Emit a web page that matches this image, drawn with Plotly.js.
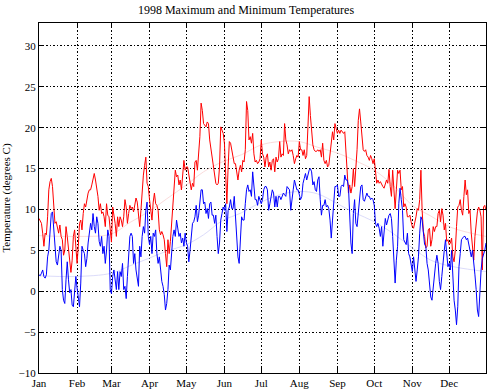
<!DOCTYPE html>
<html><head><meta charset="utf-8">
<script src="https://cdn.plot.ly/plotly-3.0.1.min.js"></script>
<style>html,body{margin:0;padding:0;background:#fff}#chart{width:492px;height:392px}</style>
</head><body><div id="chart"></div>
<script>
const monthDays = [1,32,60,91,121,152,182,213,244,274,305,335];
const monthLabels = ['Jan','Feb','Mar','Apr','May','Jun','Jul','Aug','Sep','Oct','Nov','Dec'];

const maxTemp = [
8.9,8.5,8.3,7.1,5.5,7.1,6.9,9.1,12.4,13.4,
13.8,12.8,9.9,8.3,8.5,7.9,7.1,8.1,6.7,6.3,
4.4,5.0,7.9,6.7,5.0,3.0,2.3,3.8,6.7,7.5,
5.9,3.4,5.5,8.3,8.7,7.5,9.5,10.7,10.3,11.2,
12.0,12.4,12.4,13.0,14.0,14.4,13.6,12.8,11.6,9.9,
10.7,9.5,9.7,9.1,7.9,10.7,9.3,9.1,7.1,6.0,
10.3,9.5,8.3,6.7,9.1,7.9,9.1,8.7,7.9,9.1,
11.2,10.3,8.3,9.5,10.5,10.1,10.3,9.7,10.5,11.4,
10.9,9.1,7.9,9.9,12.4,14.2,15.4,16.4,13.2,12.8,
11.2,9.5,8.7,10.9,12.0,10.7,10.5,9.9,7.5,6.9,
7.3,6.9,6.3,4.6,3.0,6.3,4.6,6.1,8.3,9.5,
12.8,14.8,14.0,14.2,13.0,13.6,12.4,14.8,16.0,14.8,
15.2,15.2,14.4,13.6,12.4,13.2,12.8,15.8,16.0,14.8,
16.4,18.9,23.0,22.1,20.5,20.3,20.1,20.7,20.5,18.5,
17.3,16.4,15.2,13.8,13.2,13.0,13.2,15.2,20.1,19.7,
19.3,18.1,14.4,10.7,15.2,18.3,18.1,17.3,16.4,15.6,
15.6,14.8,13.6,14.8,15.4,14.6,16.0,15.8,17.3,23.2,
22.1,18.5,18.9,18.1,19.3,16.8,15.8,16.0,15.6,15.8,
16.2,18.5,16.8,16.4,15.2,16.4,16.8,15.2,15.8,14.8,
16.0,16.2,14.6,16.4,15.8,16.2,18.3,16.4,16.8,16.6,
20.5,18.5,17.9,16.8,17.3,17.1,17.3,16.6,15.6,16.2,
16.6,16.4,18.3,17.3,17.3,16.6,17.3,16.2,16.6,20.1,
23.8,21.5,19.7,17.9,17.3,17.1,17.1,17.3,17.1,17.3,
16.4,18.1,16.0,15.6,16.0,15.2,15.4,16.6,17.7,19.5,
18.5,20.5,19.9,19.3,19.7,19.3,19.7,19.5,19.3,19.5,
17.3,14.0,12.0,13.0,12.0,12.8,15.0,12.8,14.8,17.3,
20.9,22.3,20.7,18.9,17.3,17.1,17.3,16.6,16.4,16.0,
16.6,16.2,15.6,16.2,14.8,13.2,13.6,13.2,13.4,13.0,
12.8,12.6,13.2,13.6,13.2,14.9,12.8,11.6,14.8,12.0,
10.1,12.4,14.8,14.4,14.8,12.4,12.8,10.3,10.7,10.3,
9.1,9.1,9.3,8.5,7.9,7.7,8.3,9.1,10.1,9.9,
11.2,14.8,9.9,7.3,6.7,5.3,5.5,7.5,7.7,5.5,
6.3,7.9,7.3,7.9,7.9,9.5,9.9,8.5,10.1,9.3,
7.5,8.3,6.1,6.3,5.7,5.9,6.5,4.2,3.6,5.0,
7.9,10.3,10.5,11.2,9.9,9.3,11.6,13.6,11.8,12.4,
9.5,9.9,7.1,5.3,3.8,6.7,8.3,9.7,10.3,9.9,
9.1,2.6,10.3,10.5,9.9
];

const minTemp = [
2.0,1.9,2.2,2.6,1.8,1.6,2.0,4.2,5.0,7.5,
9.5,9.7,7.5,5.5,3.6,3.2,4.2,5.5,5.0,0.2,
-1.1,-1.5,1.4,3.6,1.4,-0.2,0.2,-1.7,-1.9,-0.2,
1.8,0.4,-1.1,-1.9,1.0,5.5,5.0,4.6,3.0,4.0,
5.9,7.5,8.3,7.5,9.5,7.9,7.1,9.1,8.3,6.1,
5.5,6.7,4.6,5.5,3.4,5.0,7.5,6.7,0.2,-0.3,
1.8,2.6,1.2,0.2,2.4,0.2,2.4,1.8,3.4,0.2,
0.6,-0.9,1.8,4.6,6.7,7.1,6.7,3.4,4.6,2.6,
1.8,0.6,5.5,4.2,6.7,7.9,7.1,9.9,10.9,6.7,
5.7,6.7,4.6,7.1,6.7,7.5,4.6,3.4,4.2,2.2,
1.2,0.6,-0.4,-2.3,-1.5,0.2,3.2,2.6,5.0,6.7,
7.5,6.7,8.7,7.5,6.7,7.1,5.9,6.5,5.5,7.1,
5.9,5.5,3.6,5.0,6.7,8.3,8.5,9.1,10.5,8.5,
9.3,10.7,12.4,12.4,10.7,10.9,9.5,10.1,8.9,10.7,
10.9,9.3,9.3,8.3,9.3,6.7,4.6,5.9,8.7,9.5,
10.3,9.9,10.7,7.3,9.9,10.3,11.2,10.1,10.1,11.6,
8.7,7.1,4.2,3.4,7.1,9.1,8.7,8.7,10.7,12.4,
13.0,12.2,12.4,11.6,14.6,12.8,11.2,11.2,10.5,11.6,
11.2,10.7,11.2,12.4,12.8,12.8,12.4,9.9,10.7,11.6,
12.4,12.0,10.3,11.6,10.3,11.6,11.6,11.2,11.6,12.0,
11.8,11.6,12.8,12.6,12.4,9.9,11.6,12.4,13.6,12.8,
12.4,12.4,11.6,11.2,11.6,13.2,13.8,14.4,13.6,14.4,
14.8,15.0,14.6,13.0,13.4,12.4,12.2,13.6,14.0,11.2,
9.3,10.5,10.5,11.2,10.3,10.5,10.1,8.7,6.5,8.7,
11.2,12.8,12.8,13.0,11.6,11.6,12.8,13.0,12.8,14.2,
13.6,13.6,12.8,8.7,5.9,4.6,9.5,11.2,8.3,7.9,
9.9,10.7,12.8,13.0,11.2,11.0,11.6,12.0,11.6,11.6,
11.2,11.4,11.2,10.5,8.3,7.9,8.3,7.7,6.7,7.9,
5.5,7.5,8.9,8.1,8.7,9.3,9.5,8.9,6.7,4.2,
1.0,3.8,5.5,10.7,12.6,11.2,9.9,6.3,5.9,5.7,
7.1,4.6,4.2,3.0,2.4,4.2,2.4,1.2,2.6,4.2,
7.1,9.1,8.7,7.1,5.7,5.5,3.4,2.6,1.0,-0.7,
-1.1,0.6,1.8,3.4,4.4,3.4,1.2,0.2,1.8,3.8,
5.0,6.3,4.2,3.0,3.4,2.6,5.0,1.8,-1.1,-2.3,
-4.1,-1.9,3.0,4.6,6.3,6.5,6.7,6.7,6.3,6.5,
5.7,5.0,4.2,5.0,3.8,2.0,0.2,-2.3,-3.1,0.2,
2.6,4.0,4.4,5.0,5.9
];

const trendDays = [1,30,60,75,90,105,121,135,150,166,182,197,213,228,244,258,274,289,305,320,335,350,365];
const maxTrend = [6.8,6.7,7.0,8.4,9.7,11.3,13.0,14.6,15.8,16.7,17.9,18.3,18.3,17.6,16.9,16.0,14.8,13.0,10.5,9.2,7.9,7.2,6.7];
const minTrend = [1.9,1.8,2.2,3.1,4.0,4.9,5.7,6.9,8.6,9.6,10.9,11.8,12.2,11.9,10.7,9.6,8.5,7.1,5.3,3.8,3.1,2.7,2.4];

const serif = 'Liberation Serif, Times New Roman, serif';
const traces = [
  {x: trendDays, y: maxTrend, type:'scatter', mode:'lines', line:{color:'#fadcdc', width:1, shape:'spline'}, hoverinfo:'skip'},
  {x: trendDays, y: minTrend, type:'scatter', mode:'lines', line:{color:'#dcdcfa', width:1, shape:'spline'}, hoverinfo:'skip'},
  {x0:1, dx:1, y: maxTemp, type:'scatter', mode:'lines', line:{color:'#ff0000', width:1}},
  {x0:1, dx:1, y: minTemp, type:'scatter', mode:'lines', line:{color:'#0000ff', width:1}}
];
const axisCommon = {
  showline:true, linecolor:'#000', linewidth:1, mirror:'ticks',
  ticks:'inside', ticklen:5, tickcolor:'#000', tickwidth:1,
  showgrid:true, gridcolor:'#000', gridwidth:1, griddash:'2px,2px,1px,2px',
  zeroline:false, tickfont:{family:serif, size:11, color:'#000'}
};
const layout = {
  width:492, height:392,
  margin:{l:39, r:6, t:23, b:19},
  paper_bgcolor:'#fff', plot_bgcolor:'#fff',
  showlegend:false,
  title:{text:'1998 Maximum and Minimum Temperatures', font:{family:serif, size:12, color:'#000'}, x:0.5, xanchor:'center', y:0.975, yanchor:'middle'},
  xaxis: Object.assign({}, axisCommon, {range:[1,365], tickmode:'array', tickvals:monthDays, ticktext:monthLabels}),
  yaxis: Object.assign({}, axisCommon, {range:[-10,32.8], tickmode:'array', tickvals:[-10,-5,0,5,10,15,20,25,30],
    title:{text:'Temperature (degrees C)', font:{family:serif, size:11, color:'#000'}, standoff:6}})
};
Plotly.newPlot('chart', traces, layout, {staticPlot:true, displayModeBar:false});
</script>
</body></html>
